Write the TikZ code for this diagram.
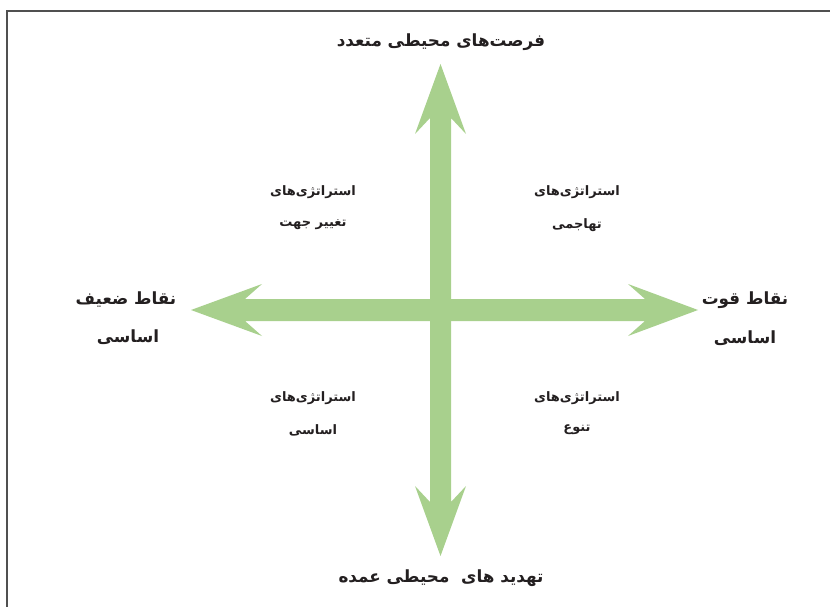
\documentclass[tikz,border=0pt]{standalone}
\usepackage{fontspec}
\TeXXeTstate=1
\newfontfamily\fa[Script=Arabic]{DejaVu Sans}
\definecolor{arrowgreen}{RGB}{168,208,141}
\definecolor{framegray}{RGB}{80,80,80}
\definecolor{txt}{RGB}{35,31,32}
\begin{document}
\begin{tikzpicture}[x=1pt,y=-1pt,
  lbl/.style={font=\fa\bfseries\fontsize{16.8}{19}\selectfont, text=txt, inner sep=0pt, align=center},
  qlbl/.style={font=\fa\bfseries\fontsize{13}{15}\selectfont, text=txt, inner sep=0pt, align=center}]
\useasboundingbox (0,0) rectangle (830,607);
\fill[white] (0,0) rectangle (830,607);
% frame (top and left only)
\draw[framegray, line width=1.4pt] (7,607) -- (7,11) -- (830,11);
% vertical double arrow
\fill[arrowgreen] (430,118) -- (415,134) -- (440.5,64) -- (466,134) -- (451,118)
  -- (451,502) -- (466,486) -- (440.5,556) -- (415,486) -- (430,502) -- cycle;
% horizontal double arrow
\fill[arrowgreen] (245,299) -- (262,284) -- (191,310) -- (262,336) -- (245,321)
  -- (645,321) -- (628,336) -- (698,310) -- (628,284) -- (645,299) -- cycle;
% labels
\node[lbl] (top) at (441,42) {\beginR فرصت^^^^200cهای محیطی متعدد\endR};
\node[lbl] (bottom) at (441,578) {\beginR تهدید های \ محیطی عمده\endR};
\node[lbl] (left1) at (126,300) {\beginR نقاط ضعیف\endR};
\node[lbl] (left2) at (128,337) {\beginR اساسی\endR};
\node[lbl] (right1) at (745,300) {\beginR نقاط قوت\endR};
\node[lbl] (right2) at (745,338) {\beginR اساسی\endR};
\node[qlbl] (ul1) at (313,192) {\beginR استراتژی^^^^200cهای\endR};
\node[qlbl] (ul2) at (313,225) {\beginR تغییر جهت\endR};
\node[qlbl] (ur1) at (577,192) {\beginR استراتژی^^^^200cهای\endR};
\node[qlbl] (ur2) at (577,225) {\beginR تهاجمی\endR};
\node[qlbl] (ll1) at (313,398) {\beginR استراتژی^^^^200cهای\endR};
\node[qlbl] (ll2) at (313,430) {\beginR اساسی\endR};
\node[qlbl] (lr1) at (577,398) {\beginR استراتژی^^^^200cهای\endR};
\node[qlbl] (lr2) at (577,430) {\beginR تنوع\endR};
\end{tikzpicture}
\end{document}
